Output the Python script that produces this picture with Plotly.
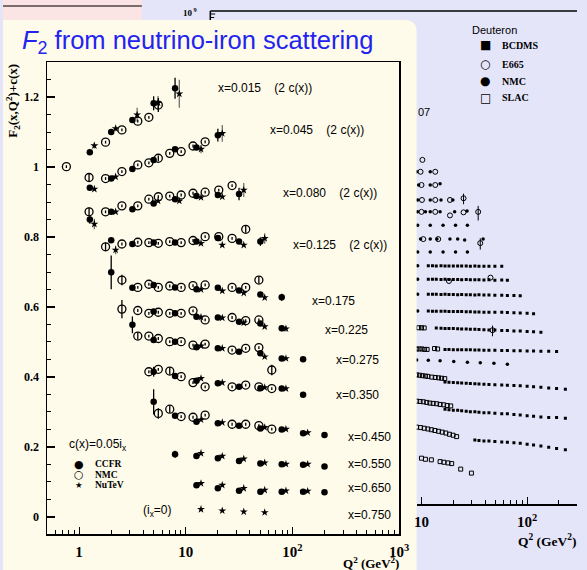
import plotly.graph_objects as go

W, H = 587, 570

# ---------------- main chart: F2 from neutrino-iron scattering ----------------
x_bins = ["0.015", "0.045", "0.080", "0.125", "0.175", "0.225", "0.275",
          "0.350", "0.450", "0.550", "0.650", "0.750"]
shift_notes = ["(2 c(x))", "(2 c(x))", "(2 c(x))", "(2 c(x))", "", "", "", "", "", "", "", ""]

ccfr_q2 = [1.26, 2.0, 3.16, 5.0, 7.94, 12.6, 20.0, 31.6, 50.1, 79.4, 126, 200]
ccfr_f2 = [
    [1.042, 1.100, 1.134, 1.182, 1.225, None, None, None, None, None, None, None],
    [0.941, 0.967, 0.994, 1.020, 1.051, 1.056, 1.091, None, None, None, None, None],
    [0.850, 0.872, 0.879, 0.896, 0.908, 0.917, 0.920, 0.923, None, None, None, None],
    [None, 0.791, 0.780, 0.784, 0.784, 0.787, 0.797, 0.787, 0.787, None, None, None],
    [None, 0.699, 0.655, 0.663, 0.656, 0.651, 0.655, 0.647, 0.636, 0.628, None, None],
    [None, None, None, 0.587, 0.582, 0.572, 0.570, 0.558, 0.553, 0.539, None, None],
    [None, None, 0.549, 0.506, 0.501, 0.485, 0.482, 0.472, 0.468, 0.453, 0.451, None],
    [None, None, None, 0.415, 0.403, 0.389, 0.382, 0.372, 0.368, 0.367, 0.349, None],
    [None, None, None, 0.329, 0.289, 0.272, 0.268, 0.261, 0.253, 0.250, 0.239, 0.234],
    [None, None, None, None, 0.179, 0.174, 0.168, 0.160, 0.153, 0.151, 0.149, 0.144],
    [None, None, None, None, None, 0.091, 0.082, 0.075, 0.072, 0.072, 0.072, 0.071],
    [None, None, None, None, None, None, None, None, None, None, None, None],
]
ccfr_big_err = {(0, 3): 0.02, (0, 4): 0.03, (1, 6): 0.018, (2, 0): 0.012, (2, 7): 0.018,
                (3, 8): 0.012, (4, 1): 0.048, (4, 9): 0.01, (5, 9): 0.008, (6, 2): 0.024,
                (7, 3): 0.014, (8, 3): 0.036, (9, 4): 0.01}

nmc_q2 = [0.76, 1.24, 1.77, 2.52, 3.55, 4.51, 5.53, 7.08, 9.06, 11.7, 15.2, 20.4, 27.2, 36.5, 48.5, 64.1]
nmc_f2 = [
    [1.001, None, 1.071, 1.106, 1.131, 1.142, 1.177, None, None, None, None, None, None, None, None, None],
    [None, 0.970, 0.967, 0.987, 1.006, 1.012, 1.025, 1.039, 1.044, 1.060, 1.072, None, None, None, None, None],
    [None, 0.872, 0.872, 0.889, 0.889, 0.908, 0.915, 0.917, 0.920, 0.925, 0.928, 0.934, 0.947, None, None, None],
    [None, None, 0.772, 0.780, 0.785, 0.784, 0.782, 0.787, 0.784, 0.790, 0.801, 0.801, 0.796, 0.822, None, None],
    [None, None, None, 0.677, 0.656, 0.665, 0.656, 0.660, 0.656, 0.661, 0.663, None, 0.656, 0.656, 0.677, None],
    [None, None, None, 0.594, 0.590, 0.582, 0.585, 0.582, 0.582, 0.589, 0.563, None, 0.570, 0.561, 0.563, None],
    [None, None, None, None, 0.517, 0.517, 0.510, 0.501, 0.501, 0.491, 0.494, None, 0.477, 0.482, 0.484, 0.420],
    [None, None, None, None, None, 0.415, 0.422, 0.417, 0.401, 0.384, 0.372, None, 0.372, 0.377, 0.372, 0.367],
    [None, None, None, None, None, None, 0.296, 0.308, 0.287, 0.285, 0.291, None, 0.265, 0.265, 0.261, 0.251],
]
nmc_big_err = {(0, 6): 0.02, (1, 1): 0.01, (1, 6): 0.008, (2, 1): 0.012, (3, 2): 0.012,
               (3, 13): 0.01, (4, 3): 0.015, (4, 14): 0.01, (5, 3): 0.026, (6, 4): 0.01,
               (6, 15): 0.015, (7, 7): 0.01, (8, 6): 0.015, (8, 7): 0.01}

nutev_q2 = [1.39, 2.2, 3.5, 5.5, 8.7, 13.9, 22.0, 35.0, 55.0, 87.0, 139, 220]
nutev_f2 = [
    [1.061, 1.110, 1.149, 1.183, 1.209, None, None, None, None, None, None, None],
    [0.937, 0.972, None, None, None, 1.051, 1.096, None, None, None, None, None],
    [0.837, 0.872, None, 0.903, 0.903, 0.913, 0.915, 0.934, None, None, None, None],
    [None, 0.763, None, None, None, 0.782, 0.777, 0.777, 0.796, None, None, None],
    [None, None, None, None, None, 0.650, 0.646, 0.640, 0.627, None, None, None],
    [None, None, None, None, None, 0.571, 0.569, 0.555, 0.544, 0.538, None, None],
    [None, None, None, None, None, 0.489, 0.482, None, 0.458, 0.453, None, None],
    [None, None, None, None, None, 0.396, 0.384, None, 0.370, 0.367, None, None],
    [None, None, None, None, None, 0.278, 0.270, None, 0.256, 0.251, 0.241, None],
    [None, None, None, None, None, 0.182, 0.174, 0.166, 0.155, 0.151, 0.151, None],
    [None, None, None, None, None, 0.096, 0.091, 0.082, 0.077, 0.075, 0.074, None],
    [None, None, None, None, None, 0.022, 0.018, 0.015, 0.013, None, None, None],
]
nutev_big_err = {(0, 0): 0.008, (0, 1): 0.008, (0, 2): 0.02, (0, 3): 0.02, (0, 4): 0.04,
                 (1, 5): 0.012, (1, 6): 0.024, (2, 0): 0.015, (2, 7): 0.02, (3, 1): 0.012,
                 (3, 8): 0.015, (5, 9): 0.008}

# ---------------- background panel: deuteron F2 (x 2^i), visible part ----------------
bq = [11.6, 12.7, 13.8, 15.3, 16.7, 18.2, 20.0, 22.0, 24.0, 26.5, 29.0, 32.0, 35.0,
      39.0, 43.5, 49.5, 57.5, 65.0, 75.0, 86.0, 100, 115, 135, 160, 190, 230]
bcdms_rows = [
    (0, [2900, 2900, 2880, 2900, 2870, 2880, 2860, 2870, 2850, 2860, 2840, 2850, 2830, 2840, 2820, 2830, 2810]),
    (0, [1480, 1470, 1480, 1460, 1470, 1450, 1460, 1450, 1440, 1450, 1430, 1440, 1430, 1420, 1430, 1410, 1420, 1400]),
    (0, [700, 695, 700, 690, 692, 685, 688, 680, 684, 676, 680, 672, 676, 668, 670, 662, 664, 656, 650, 645]),
    (0, [300, 298, 299, 296, 297, 294, 295, 292, 292, 289, 290, 287, 287, 284, 284, 281, 281, 278, 275, 272, 268, 262]),
    (2, [128, 127, 126, 126, 125, 124, 123, 122, 121, 120, 119, 118, 117, 116, 114, 113, 111, 110, 108, 106, 104]),
    (4, [44, 44, 43.5, 43.5, 43, 43, 43, 42.5, 42.5, 42, 42, 42, 41.5, 41.5, 41, 41, 40.5, 40.5, 40, 40, 39.5]),
    (4, [8.6, 8.5, 8.4, 8.3, 8.2, 8.1, 8.0, 7.9, 7.8, 7.7, 7.6, 7.5, 7.4, 7.3, 7.2, 7.1, 7.0, 6.8, 6.6, 6.4, 6.2, 6.0]),
    (4, [2.2, 2.15, 2.1, 2.1, 2.05, 2.0, 1.95, 1.95, 1.9, 1.85, 1.85, 1.8, 1.75, 1.75, 1.7, 1.65, 1.6, 1.55, 1.5, 1.45, 1.45, 1.4]),
    (11, [0.47, 0.46, 0.45, 0.45, 0.44, 0.43, 0.42, 0.41, 0.40, 0.38, 0.37, 0.35, 0.33, 0.31, 0.29]),
]
e665_q2 = [10.2, 9.8, 13.5, 10.0, 13.5, 10.1, 13.5, 18.6, 25.0, 10.0, 13.5, 18.6, 25.0, 34.4,
           10.4, 14.4, 36.0, 18.2, 45.0, 47.0]
e665_f2 = [5.8e5, 3.2e5, 3.2e5, 1.65e5, 1.65e5, 7.8e4, 7.8e4, 7.8e4, 8.5e4, 4.3e4, 4.3e4, 3.6e4, 4.2e4, 4.3e4,
           1.1e4, 1.1e4, 9.0e3, 1.35e3, 1.6e3, 115]
e665_err = [0, 0, 0, 0, 0, 0, 0, 0, 2.2e4, 0, 0, 0, 0, 1.5e4, 0, 0, 2.5e3, 0, 0, 30]
nmcd_q2 = [9.0, 12.1, 9.4, 12.1, 15.0, 9.2, 12.1, 15.3, 19.8, 9.2, 10.9, 12.1, 15.0, 20.6, 27.0,
           9.2, 12.1, 16.0, 21.0, 27.2, 9.8, 12.1, 14.0, 18.6, 22.0, 25.6, 38.3,
           9.2, 12.1, 16.0, 21.0, 27.2, 9.2, 9.2, 9.2, 9.2,
           9.0, 11.6, 15.0, 20.2, 27.2, 36.0, 48.5, 65.0]
nmcd_f2 = [3.2e5, 3.2e5, 1.65e5, 1.65e5, 1.75e5, 7.8e4, 7.8e4, 7.8e4, 7.8e4, 4.3e4, 4.3e4, 4.3e4, 4.3e4, 4.3e4, 4.5e4,
           2.2e4, 2.2e4, 2.2e4, 2.2e4, 2.2e4, 1.1e4, 1.1e4, 1.1e4, 1.1e4, 1.1e4, 1.05e4, 1.1e4,
           5.8e3, 5.8e3, 5.8e3, 5.8e3, 5.8e3, 2.9e3, 1.48e3, 700, 300,
           26, 25.5, 25, 24, 23, 22.5, 22, 21]
slac_q2 = [9.4, 10.0, 10.6,
           9.0, 9.5, 10.1, 10.7, 11.3, 13.3, 14.2,
           9.0, 9.6, 10.2, 10.9, 11.5, 12.5, 13.5, 14.5, 15.5, 16.6,
           9.0, 9.7, 10.4, 11.2, 12.0, 12.9, 13.9, 15.0, 16.2, 17.5, 18.9,
           9.0, 9.8, 10.6, 11.5, 12.4, 13.4, 14.5, 15.7, 17.0, 18.4, 19.9, 21.5,
           10.0, 10.9, 12.4, 15.0, 16.3, 17.8, 19.3, 23.5, 29.7]
slac_f2 = [130, 130, 129,
           45, 45, 45, 44, 44, 46, 45,
           12.3, 12.1, 11.8, 11.6, 11.4, 11.0, 10.8, 10.6, 10.4, 10.2,
           3.3, 3.25, 3.2, 3.1, 3.0, 2.95, 2.9, 2.8, 2.75, 2.65, 2.6,
           0.9, 0.88, 0.85, 0.82, 0.79, 0.76, 0.73, 0.70, 0.67, 0.63, 0.60, 0.56,
           0.19, 0.18, 0.175, 0.16, 0.155, 0.15, 0.145, 0.11, 0.09]

CREAM = "#fefbea"
LAV = "#e5e5fa"
PINK = "#fbe4e4"
BLUE = "#2323f0"
SERIF = "Liberation Serif"
SANS = "Liberation Sans"


def px(x):
    return x / W


def py(y):
    return 1 - y / H


def flatten(q2, rows, big, default=0.004):
    xs, ys, es = [], [], []
    for r, row in enumerate(rows):
        for i, v in enumerate(row):
            if v is None:
                continue
            xs.append(q2[i])
            ys.append(v)
            es.append(big.get((r, i), default))
    return xs, ys, es


fig = go.Figure()

# deuteron panel traces (xaxis2 / yaxis2)
bx, by = [], []
for start, vals in bcdms_rows:
    for k, v in enumerate(vals):
        bx.append(bq[start + k])
        by.append(v)
fig.add_trace(go.Scatter(x=bx, y=by, mode="markers", xaxis="x2", yaxis="y2", showlegend=False,
                         marker=dict(symbol="square", size=3, color="black")))
fig.add_trace(go.Scatter(x=nmcd_q2, y=nmcd_f2, mode="markers", xaxis="x2", yaxis="y2", showlegend=False,
                         marker=dict(symbol="circle", size=3.5, color="black")))
fig.add_trace(go.Scatter(x=slac_q2, y=slac_f2, mode="markers", xaxis="x2", yaxis="y2", showlegend=False,
                         marker=dict(symbol="square-open", size=4, color="black", line=dict(width=1))))
fig.add_trace(go.Scatter(x=e665_q2, y=e665_f2, mode="markers", xaxis="x2", yaxis="y2", showlegend=False,
                         error_y=dict(type="data", array=e665_err, width=0, thickness=1, color="black"),
                         marker=dict(symbol="circle-open", size=5, color="black", line=dict(width=1))))

# main panel traces
cx, cy, ce = flatten(ccfr_q2, ccfr_f2, ccfr_big_err)
nx, ny, ne = flatten(nmc_q2, nmc_f2, nmc_big_err)
tx, ty, te = flatten(nutev_q2, nutev_f2, nutev_big_err, 0.003)
fig.add_trace(go.Scatter(x=tx, y=ty, mode="markers", name="NuTeV", showlegend=False,
                         error_y=dict(type="data", array=te, width=0, thickness=1.2, color="#666"),
                         marker=dict(symbol="star", size=6, color="black", line=dict(width=0))))
fig.add_trace(go.Scatter(x=nx, y=ny, mode="markers", name="NMC", showlegend=False,
                         error_y=dict(type="data", array=ne, width=0, thickness=1.3, color="black"),
                         marker=dict(symbol="circle-open", size=8, color="black", line=dict(width=1.3))))
fig.add_trace(go.Scatter(x=cx, y=cy, mode="markers", name="CCFR", showlegend=False,
                         error_y=dict(type="data", array=ce, width=0, thickness=1.3, color="black"),
                         marker=dict(symbol="circle", size=6.5, color="black")))

shapes = [
    dict(type="rect", xref="paper", yref="paper", x0=px(142), x1=1, y0=0, y1=1,
         fillcolor=LAV, line_width=0, layer="below"),
    dict(type="rect", xref="paper", yref="paper", x0=0, x1=px(142), y0=py(20), y1=1,
         fillcolor=PINK, line_width=0, layer="below"),
    dict(type="line", xref="paper", yref="paper", x0=0, x1=px(142), y0=py(6), y1=py(6),
         line=dict(color="#7d6c6c", width=2), layer="below"),
    # right panel frame top and left-axis stub
    dict(type="line", xref="paper", yref="paper", x0=px(212), x1=1, y0=py(11), y1=py(11),
         line=dict(color="black", width=1.5), layer="below"),
    dict(type="line", xref="paper", yref="paper", x0=px(212), x1=px(212), y0=py(11), y1=py(21),
         line=dict(color="black", width=1.5), layer="below"),
    dict(type="line", xref="paper", yref="paper", x0=px(212), x1=px(217), y0=py(14), y1=py(14),
         line=dict(color="black", width=1), layer="below"),
    dict(type="line", xref="paper", yref="paper", x0=px(212), x1=px(216), y0=py(17.5), y1=py(17.5),
         line=dict(color="black", width=1), layer="below"),
    # cream slide panel with rounded top-right corner
    dict(type="path", xref="paper", yref="paper", layer="below", fillcolor=CREAM, line_width=0,
         path=(f"M 0,{py(20)} L {px(411)},{py(20)} Q {px(423)},{py(20)} {px(423)},{py(32)} "
               f"L {px(423)},0 L 0,0 Z")),
]

ann = []


def add_text(x, y, text, size, family=SANS, anchor="left", color="black", weight="normal",
             yanchor="middle", angle=0):
    ann.append(dict(x=px(x), y=py(y), xref="paper", yref="paper", text=text, showarrow=False,
                    xanchor=anchor, yanchor=yanchor, textangle=angle,
                    font=dict(family=family, size=size, color=color, weight=weight)))


# title
add_text(17, 42, "<i>F</i><sub>2</sub> from neutrino-iron scattering", 25.5, SANS, color=BLUE)

# row labels
label_pos = [(218, 88), (270.5, 129.5), (284, 192.5), (295, 245), (314, 301), (327.5, 329.5),
             (338, 359.5), (338, 395), (350.5, 436.7), (350.5, 464), (350.5, 488.3), (350.5, 515)]
for (lx, ly), xb, note in zip(label_pos, x_bins, shift_notes):
    t = "x=" + xb + ("\u00a0\u00a0\u00a0\u00a0" + note if note else "")
    add_text(lx, ly, t, 12, SANS)

add_text(65, 445, "c(x)=0.05i<sub>x</sub>", 12, SANS)
add_text(141, 511, "(i<sub>x</sub>=0)", 12, SANS)

# main legend
add_text(78, 464, "\u25cf", 11, "DejaVu Sans", anchor="center")
add_text(78, 474.5, "\u25cb", 11, "DejaVu Sans", anchor="center")
add_text(78, 485, "\u2605", 8.5, "DejaVu Sans", anchor="center")
add_text(92, 464, "CCFR", 9.5, SERIF, weight="bold")
add_text(92, 474.5, "NMC", 9.5, SERIF, weight="bold")
add_text(92, 485, "NuTeV", 9.5, SERIF, weight="bold")

# axis titles main
add_text(10, 101, "F<sub>2</sub>(x,Q<sup>2</sup>)+c(x)", 13, SERIF, anchor="center", weight="bold", angle=-90)
add_text(407, 563, "Q<sup>2</sup> (GeV<sup>2</sup>)", 13, SERIF, anchor="right", weight="bold")

# deuteron panel texts
add_text(478, 30, "Deuteron", 11, SANS)
add_text(493, 45, "\u25a0", 12, "DejaVu Sans", anchor="center")
add_text(493, 64, "\u25cb", 12, "DejaVu Sans", anchor="center")
add_text(493, 81, "\u25cf", 12, "DejaVu Sans", anchor="center")
add_text(493, 98, "\u25a1", 12, "DejaVu Sans", anchor="center")
for yy, name in zip([45, 64, 81, 98], ["BCDMS", "E665", "NMC", "SLAC"]):
    add_text(508, yy, name, 10, SERIF, weight="bold")
add_text(422, 112, "07", 11, SANS)
add_text(200, 12, "10<sup> 9</sup>", 9, SERIF, anchor="right", weight="bold")
add_text(525, 540, "Q<sup>2</sup> (GeV<sup>2</sup>)", 13.5, SERIF, anchor="left", weight="bold")

tickfont = dict(family=SERIF, size=12, color="black", weight="bold")

fig.update_layout(
    width=W, height=H, autosize=False,
    margin=dict(l=0, r=0, t=0, b=0, pad=0),
    paper_bgcolor=LAV, plot_bgcolor="rgba(0,0,0,0)",
    shapes=shapes, annotations=ann,
    xaxis=dict(type="log", range=[-0.30103, 3], domain=[px(45), px(405)], anchor="y",
               showgrid=False, zeroline=False, showline=True, linecolor="black", linewidth=1.5,
               mirror=True, ticks="inside", ticklen=7, tickwidth=1.2, tickcolor="black",
               dtick=1, exponentformat="power", tickfont=tickfont, ticklabelstandoff=4,
               minor=dict(ticks="inside", ticklen=4, tickwidth=1, tickcolor="black", dtick="D1",
                          showgrid=False)),
    yaxis=dict(range=[-0.0486, 1.3], domain=[py(534), py(62)], anchor="x",
               showgrid=False, zeroline=False, showline=True, linecolor="black", linewidth=1.5,
               mirror=True, ticks="inside", ticklen=8, tickwidth=1.2, tickcolor="black",
               tick0=0, dtick=0.2, tickfont=tickfont, ticklabelstandoff=4,
               minor=dict(ticks="inside", ticklen=4, tickwidth=1, tickcolor="black", dtick=0.05,
                          showgrid=False)),
    xaxis2=dict(type="log", range=[0.954, 2.472], domain=[px(423), 1], anchor="y2",
                showgrid=False, zeroline=False, showline=True, linecolor="black", linewidth=1.5,
                ticks="inside", ticklen=7, tickwidth=1.2, tickcolor="black",
                dtick=1, exponentformat="power", tickfont=tickfont, ticklabelstandoff=4,
                minor=dict(ticks="inside", ticklen=4, tickwidth=1, tickcolor="black", dtick="D1",
                           showgrid=False)),
    yaxis2=dict(type="log", range=[-1.717, 9], domain=[py(504), py(11)], anchor="x2",
                visible=False),
)

fig.write_html("out.html", config={"displayModeBar": False, "staticPlot": True},
               post_script="document.body.style.margin='0';document.body.style.overflow='hidden';")
